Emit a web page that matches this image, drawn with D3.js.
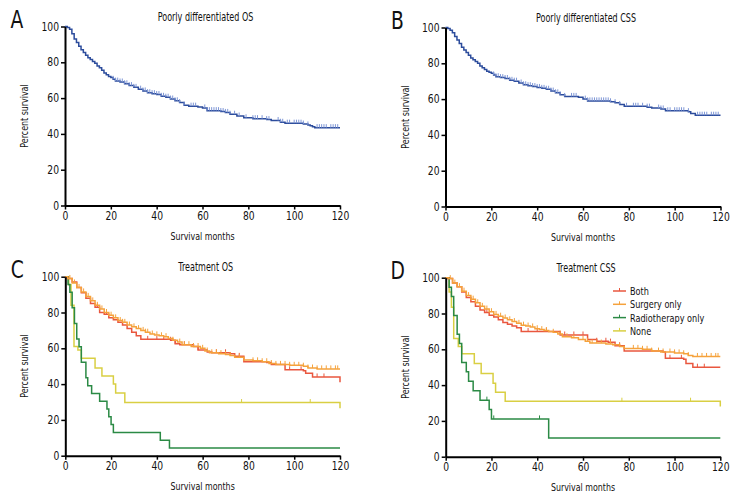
<!DOCTYPE html>
<html>
<head>
<meta charset="utf-8">
<script src="https://cdn.jsdelivr.net/npm/d3@7"></script>
<style>
  body { margin: 0; background: #fff; }
  svg text { font-family: "DejaVu Sans", sans-serif; fill: #111; }
</style>
</head>
<body>
<svg id="chart"></svg>
<script>
var width = 744, height = 504;
var svg = d3.select("#chart").attr("width", width).attr("height", height);

// ---- data: [month, percent survival] step points ----
var osPoorly = [[0,100],[1,99.5],[2,98.5],[3,96],[4,93],[5,91],[6,89],[7,87],[8,85.5],[9,84],[10,82.5],[11,81.5],[12,80.5],[13,79.5],[14,78],[15,77],[16,75.5],[17,74],[18,73],[19,72],[20,71.5],[21,70.5],[22,69.5],[24,69],[26,68],[28,67],[30,66],[32,65],[34,64],[36,63],[38,62.5],[40,62],[42,61],[44,60.5],[46,59.5],[48,58.5],[50,57.5],[52,56],[54,55.5],[58,55],[60,54.5],[62,53],[68,52.5],[70,52],[72,51],[75,50],[78,49],[82,48.5],[88,48],[90,47.5],[94,46.5],[96,46],[104,45.5],[106,45],[107,44.5],[108,44],[109,43.5],[120,43.5]];
var cssPoorly = [[0,100],[1,99.5],[2,98.5],[3,97],[4,95],[5,93],[6,91],[7,89],[8,87.5],[9,86],[10,84.5],[11,83],[12,82],[13,81],[14,80],[15,78.5],[16,77.5],[17,76.5],[18,75.5],[19,75],[20,74.5],[21,73.5],[22,72.5],[24,72],[26,71.5],[28,70.5],[30,70],[32,69],[34,68],[36,67.5],[38,67],[40,66.5],[42,66],[44,65.5],[46,64.5],[48,63.5],[50,62.5],[52,61.5],[58,61],[60,60],[62,59],[72,58.5],[74,58],[76,57],[78,56],[88,55.5],[90,55],[94,54.5],[96,53.5],[106,53],[107,52],[109,51],[120,51]];
var poorlyCensor = [21,22,23,24,25,26,27,28,29,30,31,33,34,35,36,37,38,39,40,41,42,43,44,45,46,47,48,49,50,52,55,56,57,61,62,63,64,65,66,67,68,69,70,71,72,74,76,79,82,83,84,86,88,89,93,94,95,97,98,100,101,102,103,104,106,110,111,112,113,114,116,117,118,119];

var osBoth = [[0,100],[1,99],[3,97],[5,94],[7,91],[9,88],[11,85],[13,83],[15,80],[17,79],[19,77],[21,76],[23,74.5],[25,73],[27,71],[29,69],[31,67],[33,65],[46,64.5],[48,62.5],[50,62],[56,61],[58,59],[62,58],[64,57.5],[72,57],[74,55.5],[78,52.5],[88,52],[90,51],[96,48],[104,47.5],[105,46],[108,44],[120,41]];
var osSurgery = [[0,100],[1,99],[3,96.5],[5,94],[7,91.5],[9,89],[11,86.5],[13,84],[15,82],[17,80],[19,78.5],[21,77],[23,75.5],[25,74.5],[27,73],[29,72],[31,71],[33,70],[35,69],[37,68],[39,67.5],[41,67],[43,66.5],[45,65.5],[47,64.5],[49,63.5],[51,62],[55,61],[59,60],[61,58.5],[63,57.5],[67,57],[70,56.5],[72,56],[74,55],[78,53.5],[82,53],[86,52.5],[89,51.5],[92,51],[98,50.5],[104,50],[106,49],[110,48.5],[120,48.5]];
var osRadio = [[0,100],[1.2,95.7],[2,91.3],[3,82.6],[4,73.9],[5,65.2],[6,60.9],[7,52.2],[9,43.5],[9.8,39.1],[11.5,34.8],[15,30.4],[18.2,26.1],[19,21.7],[20,17.4],[21,13],[41.5,8.7],[45.5,4.3],[120,4.3]];
var osNone = [[0,100],[1.5,95.5],[2.5,84],[3.8,61],[5.5,59],[7,54.5],[13,49],[16,44.5],[21,40],[22,35],[26,29.7],[120,26.5]];
var osBothCensor = [14,18,36,40,43,46,48,52,56,58,66,70,76,98,103,110,113];
var osSurgeryCensor = [2,4,6,8,10,11,12,14,16,18,20,22,24,25,26,28,30,32,34,35,36,38,40,42,44,47,50,52,54,56,58,60,62,64,66,68,70,72,76,82,84,86,88,90,92,94,96,98,100,102,104,106,108,110,112,114,116,118,119];
var osRadioCensor = [];
var osNoneCensor = [77,107];

var cssBoth = [[0,100],[1,99.5],[3,97],[5,95],[7,92],[9,89],[11,86.5],[13,84],[15,82],[17,80.5],[19,79],[21,78],[23,76.5],[25,75],[27,74],[29,73],[31,72],[33,70],[48,70],[50,68],[61,68],[62,65.5],[66,64.5],[71,64],[74,62],[78,59],[95,58.5],[96,55],[104,54.5],[105,52],[108,50],[120,50]];
var cssSurgery = [[0,100],[1,99.5],[3,97],[5,95],[7,92.5],[9,90],[11,88],[13,86],[15,84],[17,82.5],[19,81],[21,79.5],[23,78.5],[25,77.5],[27,76.5],[29,75.5],[31,74.5],[33,73.5],[35,73],[37,72.5],[39,71.5],[41,71],[43,70.5],[45,70],[47,69.5],[49,68.5],[51,67],[55,66.5],[58,65.5],[61,64.5],[63,63.5],[70,63],[73,62.5],[76,61.5],[78,60.5],[86,60],[90,59],[94,58.5],[100,58],[104,57.5],[106,56.5],[108,56],[120,56]];
var cssRadio = [[0,100],[1.5,94.7],[2.5,89.5],[3.5,78.9],[5,68.4],[6,63.2],[7,52.6],[9,47.4],[10,42.1],[12,36.8],[15,31.6],[19,26.3],[20,21.1],[45,10.5],[120,10.5]];
var cssNone = [[0,100],[1.5,92],[2.5,83.5],[3.5,66],[5.5,61.5],[7,57.5],[12.5,52],[15.5,46.5],[20.7,41],[21.8,36],[26,31],[120,28]];
var cssBothCensor = [18,36,40,44,52,56,60,66,70,72,76,98,103,110,113];
var cssSurgeryCensor = [2,4,6,8,10,12,14,16,18,20,22,24,26,28,30,32,34,36,38,40,42,44,47,50,53,56,60,62,64,66,68,72,76,82,84,86,88,90,93,95,98,100,102,104,106,110,112,114,116,118,119];
var cssRadioCensor = [18,21,41];
var cssNoneCensor = [77,107];

var xTicks = [0,20,40,60,80,100,120];
var yTicks = [0,20,40,60,80,100];
var groupNames = ["Both","Surgery only","Radiotherapy only","None"];
var groupColors = ["#e9573f","#f5a23c","#2b8a45","#d9cf43"];
var blue = "#2c4c9c";

var panels = [
  { letter: "A", title: "Poorly differentiated OS", x0: 65, x1: 340, y0: 205.5, y1: 26.5,
    series: [{ data: osPoorly, censor: poorlyCensor, color: blue, tick: "#7f97d6" }] },
  { letter: "B", title: "Poorly differentiated CSS", x0: 445.5, x1: 720.5, y0: 206.5, y1: 27.5,
    series: [{ data: cssPoorly, censor: poorlyCensor, color: blue, tick: "#7f97d6" }] },
  { letter: "C", title: "Treatment OS", x0: 65.3, x1: 340, y0: 455.7, y1: 276.7,
    series: [
      { data: osNone, censor: osNoneCensor, color: groupColors[3] },
      { data: osRadio, censor: osRadioCensor, color: groupColors[2] },
      { data: osBoth, censor: osBothCensor, color: groupColors[0] },
      { data: osSurgery, censor: osSurgeryCensor, color: groupColors[1] }] },
  { letter: "D", title: "Treatment CSS", x0: 445.7, x1: 720.3, y0: 456.7, y1: 277.7, legend: true,
    series: [
      { data: cssNone, censor: cssNoneCensor, color: groupColors[3] },
      { data: cssRadio, censor: cssRadioCensor, color: groupColors[2] },
      { data: cssBoth, censor: cssBothCensor, color: groupColors[0] },
      { data: cssSurgery, censor: cssSurgeryCensor, color: groupColors[1] }] }
];

function survivalAt(data, t) {
  var s = data[0][1];
  for (var i = 0; i < data.length; i++) {
    if (data[i][0] <= t) s = data[i][1];
  }
  return s;
}

// squeeze glyphs horizontally so they look like the condensed font of the original
function label(g, x, y, str, size, anchor, squeeze, rot) {
  return g.append("text")
    .attr("transform", "translate(" + x + "," + y + ")" + (rot ? " rotate(" + rot + ")" : "") + " scale(" + squeeze + ",1)")
    .attr("text-anchor", anchor)
    .attr("font-size", size)
    .text(str);
}

panels.forEach(function (p) {
  var x = d3.scaleLinear().domain([0, 120]).range([p.x0, p.x1]);
  var y = d3.scaleLinear().domain([0, 100]).range([p.y0, p.y1]);
  var g = svg.append("g");

  var line = d3.line()
    .x(function (d) { return x(d[0]); })
    .y(function (d) { return y(d[1]); })
    .curve(d3.curveStepAfter);

  p.series.forEach(function (s) {
    g.append("path")
      .attr("d", line(s.data))
      .attr("fill", "none")
      .attr("stroke", s.color)
      .attr("stroke-width", 1.5);
    g.selectAll(null)
      .data(s.censor)
      .enter().append("line")
      .attr("x1", function (t) { return x(t); })
      .attr("x2", function (t) { return x(t); })
      .attr("y1", function (t) { return y(survivalAt(s.data, t)); })
      .attr("y2", function (t) { return y(survivalAt(s.data, t)) - 3.5; })
      .attr("stroke", s.tick || s.color)
      .attr("stroke-width", 1);
  });

  // axes
  var xAxis = g.append("g")
    .attr("transform", "translate(0," + p.y0 + ")")
    .call(d3.axisBottom(x).tickValues(xTicks).tickSize(4).tickSizeOuter(0).tickPadding(2));
  var yAxis = g.append("g")
    .attr("transform", "translate(" + p.x0 + ",0)")
    .call(d3.axisLeft(y).tickValues(yTicks).tickSize(4).tickSizeOuter(0).tickPadding(2));
  [xAxis, yAxis].forEach(function (a) {
    a.select(".domain").attr("stroke", "#000").attr("stroke-width", 2);
    a.selectAll(".tick line").attr("stroke", "#000").attr("stroke-width", 1.5);
    a.selectAll(".tick text").attr("font-size", 11.5).attr("fill", "#111")
      .attr("font-family", "DejaVu Sans, sans-serif");
  });
  xAxis.selectAll(".tick text").attr("transform", "scale(0.8,1)");
  yAxis.selectAll(".tick text").each(function () {
    var t = d3.select(this);
    var xx = +t.attr("x");
    t.attr("x", null).attr("transform", "translate(" + xx + ",0) scale(0.8,1)");
  });

  var cx = (p.x0 + p.x1) / 2;
  label(g, cx + 3, p.y1 - 6, p.title, 11.5, "middle", 0.7);
  label(g, cx, p.y0 + 34, "Survival months", 11, "middle", 0.72);
  label(g, p.x0 - 37, (p.y0 + p.y1) / 2, "Percent survival", 11, "middle", 0.72, -90);
  label(g, p.x0 - 48, p.y1 + 1, p.letter, 24, "middle", 0.78);

  if (p.legend) {
    var lg = g.append("g");
    groupNames.forEach(function (name, i) {
      var ly = 291 + i * 13.3;
      lg.append("line").attr("x1", 613).attr("x2", 626).attr("y1", ly).attr("y2", ly)
        .attr("stroke", groupColors[i]).attr("stroke-width", 1.5);
      lg.append("line").attr("x1", 619.5).attr("x2", 619.5).attr("y1", ly).attr("y2", ly - 3)
        .attr("stroke", groupColors[i]).attr("stroke-width", 1);
      label(lg, 630, ly + 4, name, 11, "start", 0.74);
    });
  }
});
</script>
</body>
</html>
